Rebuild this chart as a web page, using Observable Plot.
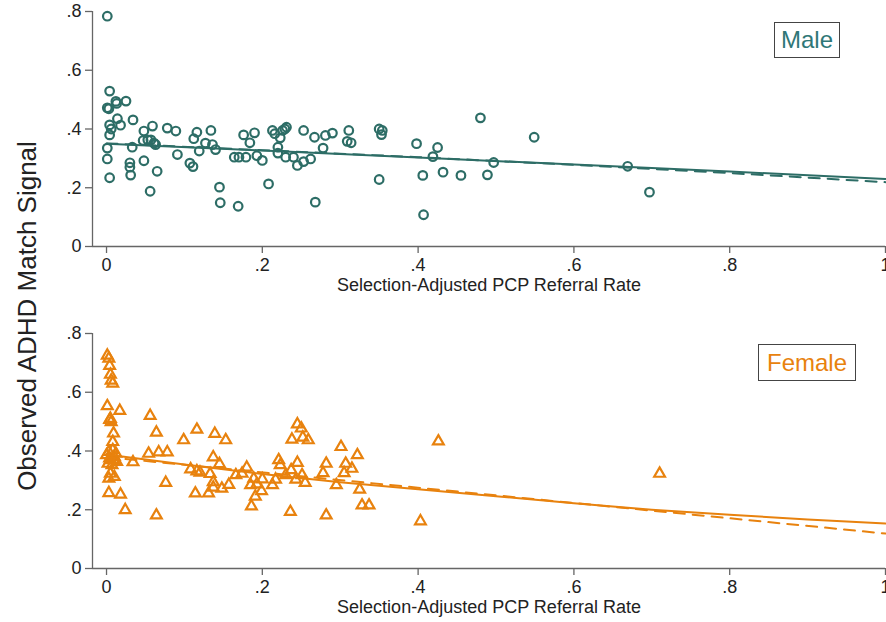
<!DOCTYPE html>
<html><head><meta charset="utf-8">
<script src="https://cdn.jsdelivr.net/npm/d3@7"></script>
<script src="https://cdn.jsdelivr.net/npm/@observablehq/plot@0.6"></script>
<style>
body{margin:0;background:#fff;font-family:"Liberation Sans",Arial,sans-serif}
#wrap{position:relative;width:886px;height:622px;overflow:hidden}
.panel{position:absolute;left:0}
.ytitle{position:absolute;left:27px;top:316px;transform:translate(-50%,-50%) rotate(-90deg);font-size:26px;white-space:nowrap;color:#222}
.key{position:absolute;box-sizing:border-box;border:1.5px solid #444;font-size:24px;display:flex;align-items:center;justify-content:center;background:#fff}
</style>
</head><body>
<div id="wrap"></div>
<script>
const xTicks = [0, 0.2, 0.4, 0.6, 0.8, 1];
const xTickLabels = ["0", ".2", ".4", ".6", ".8", "1"];
const yTicks = [0, 0.2, 0.4, 0.6, 0.8];
const yTickLabels = ["0", ".2", ".4", ".6", ".8"];
const xTitle = "Selection-Adjusted PCP Referral Rate";
const yTitle = "Observed ADHD Match Signal";
const seriesNames = ["Male", "Female"];

const maleX = [0.001,0.004,0.001,0.003,0.012,0.013,0.025,0.004,0.006,0.014,0.018,0.004,0.001,0.001,0.004,0.034,0.033,0.030,0.030,0.031,0.048,0.047,0.048,0.056,0.059,0.053,0.057,0.061,0.063,0.065,0.078,0.089,0.091,0.107,0.111,0.112,0.116,0.119,0.127,0.134,0.136,0.140,0.145,0.146,0.169,0.164,0.170,0.176,0.179,0.184,0.190,0.193,0.200,0.208,0.213,0.216,0.220,0.220,0.223,0.226,0.229,0.231,0.230,0.240,0.245,0.253,0.253,0.262,0.267,0.268,0.278,0.281,0.290,0.311,0.309,0.314,0.350,0.354,0.353,0.350,0.398,0.425,0.419,0.406,0.407,0.432,0.455,0.480,0.489,0.497,0.549,0.669,0.697];
const maleY = [0.784,0.529,0.472,0.469,0.494,0.487,0.495,0.414,0.400,0.435,0.413,0.380,0.335,0.298,0.234,0.431,0.338,0.285,0.270,0.243,0.393,0.361,0.292,0.188,0.410,0.363,0.363,0.352,0.347,0.256,0.403,0.393,0.313,0.284,0.272,0.367,0.389,0.325,0.352,0.395,0.347,0.330,0.202,0.149,0.137,0.304,0.304,0.380,0.304,0.353,0.387,0.309,0.293,0.213,0.395,0.384,0.338,0.318,0.370,0.395,0.400,0.406,0.304,0.304,0.276,0.289,0.395,0.298,0.372,0.151,0.335,0.378,0.386,0.395,0.358,0.353,0.400,0.395,0.381,0.228,0.350,0.337,0.306,0.242,0.108,0.253,0.242,0.438,0.244,0.286,0.372,0.273,0.185];

const femaleX = [0.001,0.003,0.004,0.005,0.006,0.008,0.001,0.004,0.006,0.005,0.017,0.009,0.008,0.000,0.003,0.008,0.005,0.002,0.010,0.012,0.013,0.007,0.004,0.009,0.005,0.003,0.010,0.003,0.018,0.024,0.034,0.056,0.064,0.054,0.067,0.078,0.064,0.076,0.099,0.116,0.108,0.116,0.120,0.114,0.131,0.139,0.137,0.145,0.133,0.137,0.137,0.148,0.157,0.153,0.166,0.174,0.180,0.189,0.200,0.185,0.193,0.191,0.199,0.186,0.213,0.217,0.221,0.223,0.230,0.237,0.245,0.236,0.238,0.245,0.250,0.252,0.259,0.243,0.251,0.255,0.282,0.278,0.282,0.295,0.301,0.307,0.305,0.315,0.322,0.325,0.328,0.337,0.403,0.426,0.710];
const femaleY = [0.725,0.715,0.690,0.660,0.640,0.630,0.553,0.506,0.499,0.510,0.537,0.460,0.431,0.386,0.397,0.403,0.369,0.357,0.380,0.391,0.363,0.352,0.375,0.370,0.323,0.306,0.312,0.257,0.252,0.199,0.362,0.520,0.463,0.391,0.396,0.396,0.181,0.292,0.437,0.473,0.338,0.331,0.327,0.256,0.256,0.459,0.379,0.356,0.322,0.294,0.276,0.272,0.285,0.437,0.318,0.323,0.344,0.306,0.304,0.284,0.287,0.245,0.264,0.212,0.284,0.303,0.369,0.352,0.318,0.335,0.360,0.193,0.439,0.491,0.477,0.446,0.437,0.303,0.318,0.292,0.181,0.325,0.357,0.284,0.414,0.357,0.325,0.340,0.386,0.269,0.215,0.215,0.161,0.433,0.323];

// fitted lines
const maleFitX = [0, 0.2, 0.4, 0.6, 0.8, 1];
const maleFitSolid = [0.350, 0.327, 0.303, 0.279, 0.255, 0.230];
const maleFitDashed = [0.351, 0.328, 0.304, 0.278, 0.250, 0.219];
const femaleFitX = [0, 0.1, 0.2, 0.3, 0.4, 0.5, 0.6, 0.7, 0.8, 0.9, 1];
const femaleFitSolid = [0.388, 0.354, 0.322, 0.294, 0.270, 0.246, 0.222, 0.200, 0.183, 0.167, 0.153];
const femaleFitDashedX = [0, 1];
const femaleFitDashed = [0.379, 0.119];

const colors = {Male: "#2d6d66", Female: "#e8820e"};
const keyText = {Male: "#2f7777", Female: "#e8820e"};
const axisColor = "#666";
const FONT = '"Liberation Sans", Arial, sans-serif';
const X0 = -0.018;

function panel({xs, ys, solidX, solid, dashedX, dashed, color, symbol, r, sw, height, top, bottom}) {
  const pts = xs.map((x, i) => ({x, y: ys[i]}));
  const sol = solidX.map((x, i) => ({x, y: solid[i]}));
  const das = dashedX.map((x, i) => ({x, y: dashed[i]}));
  return Plot.plot({
    width: 886, height, marginLeft: 92, marginRight: 1, marginTop: top, marginBottom: bottom,
    x: {domain: [X0, 1]},
    y: {domain: [0, 0.8]},
    style: {fontFamily: FONT, fontSize: "18px", color: "#222", background: "#fff", overflow: "visible"},
    marks: [
      Plot.ruleX([X0], {y1: 0, y2: 0.8, stroke: axisColor, strokeWidth: 1.3}),
      Plot.ruleY([0], {x1: X0, x2: 1, stroke: axisColor, strokeWidth: 1.3}),
      Plot.axisY({ticks: yTicks, tickFormat: d => yTickLabels[yTicks.indexOf(d)], tickSize: 7, tickPadding: 4, stroke: axisColor, strokeWidth: 1.3, fontSize: 18, label: null}),
      Plot.axisX({ticks: xTicks, tickFormat: d => xTickLabels[xTicks.indexOf(d)], tickSize: 7, tickPadding: 5, stroke: axisColor, strokeWidth: 1.3, fontSize: 18, label: null}),
      Plot.text([xTitle], {frameAnchor: "bottom", dy: 39, lineAnchor: "middle", fontSize: 18, fill: "#222"}),
      Plot.dot(pts, {x: "x", y: "y", symbol, r, stroke: color, strokeWidth: sw, fill: "none"}),
      Plot.line(das, {x: "x", y: "y", stroke: color, strokeWidth: 2, strokeDasharray: "11,8"}),
      Plot.line(sol, {x: "x", y: "y", stroke: color, strokeWidth: 2})
    ]
  });
}

const wrap = document.getElementById("wrap");
const p1 = panel({xs: maleX, ys: maleY, solidX: maleFitX, solid: maleFitSolid, dashedX: maleFitX, dashed: maleFitDashed,
  color: colors.Male, symbol: "circle", r: 4.3, sw: 2.2, height: 310, top: 11, bottom: 64});
p1.classList.add("panel"); p1.style.top = "0px";
wrap.appendChild(p1);
const p2 = panel({xs: femaleX, ys: femaleY, solidX: femaleFitX, solid: femaleFitSolid, dashedX: femaleFitDashedX, dashed: femaleFitDashed,
  color: colors.Female, symbol: "triangle", r: 4, sw: 2.2, height: 312, top: 23, bottom: 54});
p2.classList.add("panel"); p2.style.top = "310px";
wrap.appendChild(p2);

const yt = document.createElement("div");
yt.className = "ytitle"; yt.textContent = yTitle;
wrap.appendChild(yt);

const keys = [
  {name: seriesNames[0], left: 774, top: 22, w: 66, h: 36},
  {name: seriesNames[1], left: 758, top: 344, w: 98, h: 37}
];
for (const k of keys) {
  const d = document.createElement("div");
  d.className = "key";
  d.textContent = k.name;
  Object.assign(d.style, {left: k.left + "px", top: k.top + "px", width: k.w + "px", height: k.h + "px", color: keyText[k.name]});
  wrap.appendChild(d);
}
</script>
</body></html>
